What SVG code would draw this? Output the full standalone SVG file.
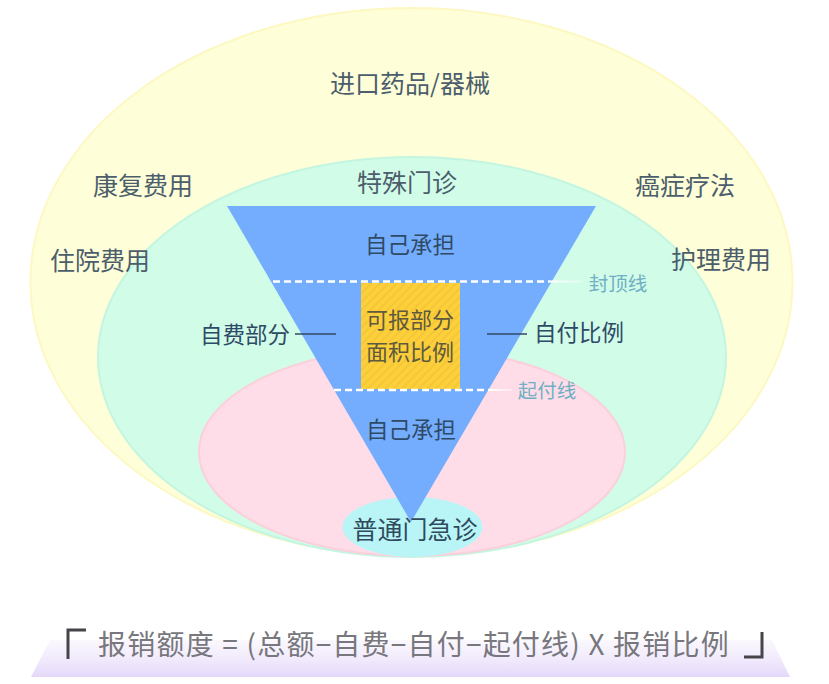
<svg xmlns="http://www.w3.org/2000/svg" width="829" height="684" viewBox="0 0 829 684">
<style>
text{font-family:"Noto Sans CJK SC","Liberation Sans",sans-serif;text-anchor:middle;fill:#4c5e6c}
.t{font-size:25px}
.s{font-size:22.500px;fill:#2f4a66}
.m{font-size:22px;fill:#5d5a3e}
.l{font-size:19.500px;fill:#6fb0c4}
.f{font-size:28px;letter-spacing:1.200px;fill:#77777d}
.dash{stroke:#fff;stroke-width:2.500;stroke-dasharray:7 4;fill:none}
.tick{stroke:#2f4a66;stroke-width:1.500;fill:none}
.br{stroke:#45454a;stroke-width:3;fill:none}
</style>
<defs>
<pattern id="hatch" width="6" height="6" patternUnits="userSpaceOnUse" patternTransform="rotate(-45)">
<rect width="6" height="6" fill="#fdd03a"/><rect width="6" height="2" fill="#f4c63a"/>
</pattern>
<linearGradient id="band" x1="0" y1="0" x2="0" y2="1"><stop offset="0" stop-color="#f3ecfc" stop-opacity=".4"/><stop offset="1" stop-color="#e4d7fa"/></linearGradient>
<linearGradient id="fa"><stop offset="0" stop-color="#fff"/><stop offset="1" stop-color="#fff" stop-opacity=".3"/></linearGradient>
</defs>
<rect width="829" height="684" fill="#fff"/>
<g id="node-imported"><ellipse cx="411.500" cy="282" rx="381" ry="274" fill="#feffd9" stroke="#fdf8c2" stroke-width="2"/></g>
<g id="node-special"><ellipse cx="412" cy="357" rx="314" ry="200" fill="#d1fce8" stroke="#c4f5e0" stroke-width="2"/></g>
<g id="node-pink"><ellipse cx="412" cy="452" rx="213" ry="104" fill="#ffdde8" stroke="#fbd0dc" stroke-width="2"/></g>
<g id="node-clinic"><ellipse cx="412.500" cy="527" rx="70" ry="30" fill="#b9f5f7"/></g>
<g id="node-funnel"><polygon points="227,206 596,206 411,522" fill="#74adfe"/>
<text class="s" x="410" y="253">自己承担</text><text class="s" x="411" y="438">自己承担</text></g>
<g id="node-reimbursable"><rect x="361" y="283" width="99" height="106" fill="url(#hatch)"/>
<text class="m" x="410" y="328">可报部分</text><text class="m" x="410" y="360">面积比例</text></g>
<g id="connectors">
<line class="dash" x1="273" y1="281.500" x2="550" y2="281.500"/>
<rect x="550" y="280.500" width="32" height="2" fill="url(#fa)"/>
<line class="dash" x1="334" y1="390" x2="490" y2="390"/>
<rect x="490" y="389" width="22" height="2" fill="url(#fa)"/>
<line class="tick" x1="295" y1="334" x2="336" y2="334"/>
<line class="tick" x1="487" y1="334" x2="527" y2="334"/>
</g>
<g id="node-labels">
<text class="t" x="410" y="93">进口药品/器械</text><text class="t" x="143" y="195">康复费用</text><text class="t" x="100" y="270">住院费用</text><text class="t" x="685" y="195">癌症疗法</text><text class="t" x="721" y="269">护理费用</text>
<text class="t" x="407" y="192">特殊门诊</text>
<text class="l" x="618" y="291">封顶线</text><text class="l" x="547" y="398">起付线</text>
<text class="s" x="245" y="343">自费部分</text><text class="s" x="579" y="341">自付比例</text>
<text class="t" x="415" y="539" style="fill:#2f4a5c">普通门急诊</text>
</g>
<g id="node-formula">
<polygon points="50,640 772,640 790,677 31,677" fill="url(#band)"/>
<path class="br" d="M86,630H68V659"/><path class="br" d="M762,632V657H744"/>
<text class="f" x="414" y="655">报销额度 = (总额−自费−自付−起付线) X 报销比例</text>
</g>
</svg>
